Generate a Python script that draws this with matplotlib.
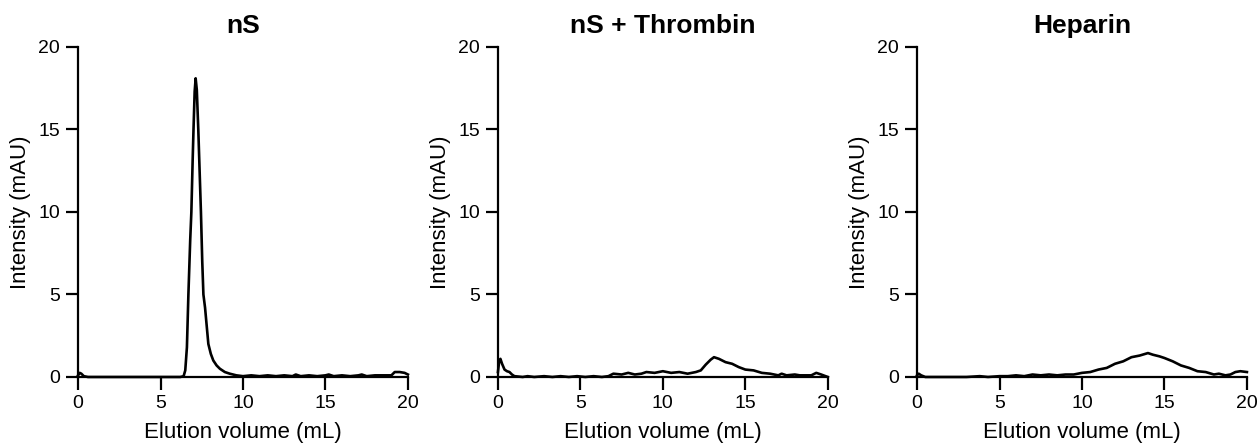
import matplotlib.pyplot as plt

plt.rcParams["font.family"] = ["Liberation Sans", "DejaVu Sans"]

# traces (elution volume in mL, intensity in mAU)
ns_volume = [0.0, 0.1, 0.2, 0.35, 0.6, 1.5, 3.0, 4.5, 5.5, 6.2, 6.4, 6.5, 6.6, 6.69,
             6.8, 6.87, 6.95, 7.0, 7.07, 7.13, 7.2, 7.29, 7.37, 7.45, 7.53, 7.6,
             7.7, 7.8, 7.9, 8.05, 8.2, 8.4, 8.6, 8.9, 9.2, 9.6, 10.0, 10.5, 11.0,
             11.5, 12.0, 12.5, 13.0, 13.2, 13.5, 14.0, 14.5, 15.0, 15.2, 15.5, 16.0,
             16.5, 17.0, 17.2, 17.5, 18.0, 18.5, 19.0, 19.2, 19.5, 19.8, 20.0]
ns_intensity = [0.1, 0.25, 0.2, 0.05, 0.0, 0.0, 0.0, 0.0, 0.0, 0.0, 0.05, 0.4, 1.8, 5.0,
                8.3, 10.0, 13.2, 15.0, 17.3, 18.1, 17.4, 15.0, 12.5, 10.0, 7.0, 5.0,
                4.2, 3.1, 2.0, 1.4, 1.0, 0.7, 0.5, 0.3, 0.2, 0.1, 0.05, 0.1, 0.05,
                0.1, 0.05, 0.1, 0.05, 0.15, 0.05, 0.1, 0.05, 0.1, 0.15, 0.05, 0.1,
                0.05, 0.1, 0.15, 0.05, 0.1, 0.1, 0.1, 0.3, 0.3, 0.25, 0.15]

thr_volume = [0.0, 0.08, 0.15, 0.25, 0.4, 0.55, 0.7, 0.85, 1.0, 1.5, 1.8, 2.2, 2.8,
              3.3, 3.8, 4.3, 4.8, 5.3, 5.8, 6.3, 6.7, 7.0, 7.5, 7.9, 8.3, 8.7, 9.0,
              9.5, 10.0, 10.5, 11.0, 11.5, 12.0, 12.3, 12.6, 12.9, 13.1, 13.4, 13.8,
              14.2, 14.6, 15.0, 15.5, 16.0, 16.5, 17.0, 17.2, 17.5, 18.0, 18.3, 18.7,
              19.0, 19.3, 19.6, 20.0]
thr_intensity = [0.3, 1.0, 1.1, 0.8, 0.45, 0.35, 0.3, 0.15, 0.05, 0.0, 0.05, 0.0, 0.05,
                 0.0, 0.05, 0.0, 0.05, 0.0, 0.05, 0.0, 0.05, 0.2, 0.15, 0.25, 0.15,
                 0.2, 0.3, 0.25, 0.35, 0.25, 0.3, 0.2, 0.3, 0.4, 0.75, 1.05, 1.2, 1.1,
                 0.9, 0.8, 0.6, 0.45, 0.4, 0.25, 0.2, 0.1, 0.2, 0.1, 0.15, 0.1, 0.1,
                 0.1, 0.25, 0.15, 0.0]

hep_volume = [0.0, 0.1, 0.25, 0.5, 1.0, 2.0, 3.0, 3.8, 4.3, 5.0, 5.5, 6.0, 6.5, 7.0,
              7.5, 8.0, 8.5, 9.0, 9.5, 10.0, 10.5, 11.0, 11.5, 12.0, 12.5, 13.0,
              13.5, 14.0, 14.3, 14.7, 15.0, 15.5, 16.0, 16.5, 17.0, 17.5, 18.0,
              18.3, 18.7, 19.0, 19.3, 19.6, 20.0]
hep_intensity = [0.1, 0.2, 0.1, 0.0, 0.0, 0.0, 0.0, 0.05, 0.0, 0.05, 0.05, 0.1, 0.05,
                 0.15, 0.1, 0.15, 0.1, 0.15, 0.15, 0.25, 0.3, 0.45, 0.55, 0.8, 0.95,
                 1.2, 1.3, 1.45, 1.35, 1.25, 1.15, 0.95, 0.7, 0.55, 0.35, 0.3, 0.15,
                 0.2, 0.1, 0.15, 0.3, 0.35, 0.3]

titles = ["nS", "nS + Thrombin", "Heparin"]
traces = [(ns_volume, ns_intensity), (thr_volume, thr_intensity), (hep_volume, hep_intensity)]
lefts = [0.062, 0.3955, 0.7284]

fig = plt.figure(figsize=(12.59, 4.43), dpi=100)

for left, title, (vol, inten) in zip(lefts, titles, traces):
    ax = fig.add_axes([left, 0.149, 0.262, 0.745])
    ax.plot(vol, inten, color="black", lw=1.9, clip_on=False, zorder=3)
    ax.set_xlim(0, 20)
    ax.set_ylim(0, 20)
    ax.set_xticks([0, 5, 10, 15, 20])
    ax.set_yticks([0, 5, 10, 15, 20])
    ax.spines["top"].set_visible(False)
    ax.spines["right"].set_visible(False)
    for s in ("left", "bottom"):
        ax.spines[s].set_linewidth(1.6)
    ax.tick_params(direction="out", length=9, width=1.6, labelsize=14, pad=4)
    ax.set_xlabel("Elution volume (mL)", fontsize=16, labelpad=7)
    ax.set_ylabel("Intensity (mAU)", fontsize=16, labelpad=5)
    ax.set_title(title, fontsize=19, fontweight="bold", pad=10)

fig.savefig("out.png", dpi=100)
